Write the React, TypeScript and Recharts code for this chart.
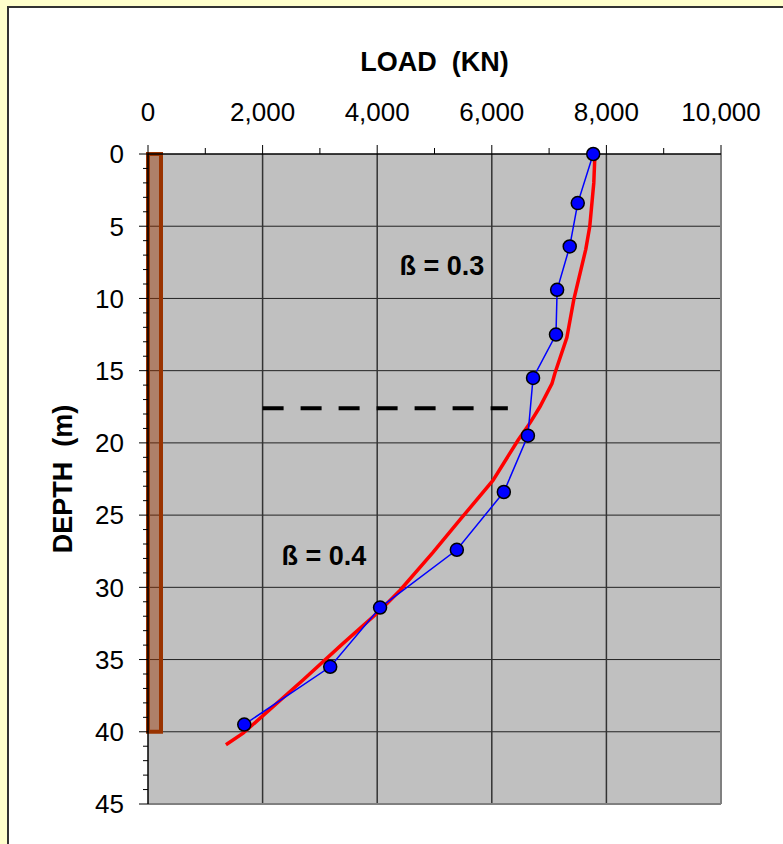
import { ComposedChart, Scatter, XAxis, YAxis, CartesianGrid, ReferenceArea, ReferenceLine, ReferenceDot } from 'recharts';

// load vs depth, measured points (blue)
const measuredLoad = [7770, 7500, 7360, 7140, 7120, 6720, 6630, 6210, 5390, 4050, 3180, 1680];
const measuredDepth = [0, 3.4, 6.4, 9.4, 12.5, 15.5, 19.5, 23.4, 27.4, 31.4, 35.5, 39.5];

// fitted curve (red)
const fitLoad = [7800, 7780, 7710, 7640, 7430, 7310, 7100, 7050, 6840, 6670, 6460, 6020, 5450, 4970, 4400, 4050, 3400, 2710, 1660, 1360];
const fitDepth = [0, 2.0, 5.0, 6.6, 10.1, 12.7, 15.2, 15.9, 17.5, 18.6, 19.8, 22.6, 25.3, 27.6, 30.2, 31.6, 33.9, 36.4, 40.1, 40.9];

const xMajorTicks = [0, 2000, 4000, 6000, 8000, 10000];
const xAllTicks = [0, 1000, 2000, 3000, 4000, 5000, 6000, 7000, 8000, 9000, 10000];
const yMajorTicks = [0, 5, 10, 15, 20, 25, 30, 35, 40, 45];
const yAllTicks = Array.from({ length: 46 }, (_, i) => i);

const pileWidth = 227;
const pileDepth = 40;
const layerDepth = 17.6;
const layerFrom = 2000;
const layerTo = 6280;

const measured = measuredLoad.map((x, i) => ({ x, y: measuredDepth[i] }));
const fitted = fitLoad.map((x, i) => ({ x, y: fitDepth[i] }));

const FONT = 'Liberation Sans, Arial, sans-serif';
const X_MARGIN = 33;
const Y_MARGIN = 24;

const XTick = (props: any) => {
  const { x, y, payload } = props;
  const v = payload.value;
  const major = xMajorTicks.includes(v);
  const axisY = y + X_MARGIN;
  return (
    <g>
      <line x1={x} x2={x} y1={axisY} y2={axisY - (major ? 9 : 6)} stroke="#000" strokeWidth={1} />
      {major && (
        <text x={x} y={y} textAnchor="middle" fontSize={26} fontFamily={FONT} fill="#000">
          {v.toLocaleString('en-US')}
        </text>
      )}
    </g>
  );
};

const YTick = (props: any) => {
  const { x, y, payload } = props;
  const v = payload.value;
  const major = yMajorTicks.includes(v);
  const axisX = x + Y_MARGIN;
  return (
    <g>
      <line x1={axisX} x2={axisX - (major ? 9 : 5)} y1={y} y2={y} stroke="#000" strokeWidth={1} />
      {major && (
        <text x={x} y={y} dy="0.36em" textAnchor="end" fontSize={26} fontFamily={FONT} fill="#000">
          {v}
        </text>
      )}
    </g>
  );
};

const Dot = (props: any) => (
  <circle cx={props.cx} cy={props.cy} r={6.5} fill="#0000FF" stroke="#000" strokeWidth={1.5} />
);

const NoDot = () => <g />;

const labelStyle = { fontSize: 27, fontWeight: 'bold', fontFamily: FONT, fill: '#000', whiteSpace: 'pre' } as any;

export default function App() {
  return (
    <div style={{ position: 'absolute', left: 0, top: 0, width: 783, height: 844, background: '#FFFFCC', overflow: 'hidden' }}>
      <div
        style={{
          position: 'absolute', left: 7, top: 6, width: 820, height: 880,
          background: '#fff', borderLeft: '2px solid #333', borderTop: '2px solid #333',
        }}
      />
      <div style={{ position: 'absolute', left: 0, top: 0 }}>
        <ComposedChart width={783} height={844} margin={{ top: 100, right: 62, bottom: 40, left: 0 }}>
          <CartesianGrid
            fill="#C0C0C0"
            vertical={false}
            horizontalValues={[5, 10, 15, 20, 25, 30, 35, 40]}
            stroke="#222"
            strokeWidth={1}
          />
          <CartesianGrid
            horizontal={false}
            verticalValues={[2000, 4000, 6000, 8000]}
            stroke="#333"
            strokeWidth={1.5}
          />
          <XAxis
            type="number"
            dataKey="x"
            orientation="top"
            domain={[0, 10000]}
            ticks={xAllTicks}
            interval={0}
            height={54}
            tickSize={0}
            tickMargin={X_MARGIN}
            tickLine={false}
            tick={<XTick />}
            axisLine={{ stroke: '#000', strokeWidth: 1.5 }}
            label={{ value: 'LOAD \u00A0(KN)', position: 'top', offset: 29, style: labelStyle }}
          />
          <YAxis
            type="number"
            dataKey="y"
            reversed
            domain={[0, 45]}
            ticks={yAllTicks}
            interval={0}
            width={148}
            tickSize={0}
            tickMargin={Y_MARGIN}
            tickLine={false}
            tick={<YTick />}
            axisLine={{ stroke: '#000', strokeWidth: 1.5 }}
            label={{ value: 'DEPTH \u00A0(m)', angle: -90, position: 'insideLeft', offset: 62, style: { ...labelStyle, textAnchor: 'middle' } }}
          />
          <ReferenceLine x={10000} stroke="#808080" strokeWidth={2} />
          <ReferenceLine y={45} stroke="#808080" strokeWidth={2} />
          <ReferenceArea
            x1={0}
            x2={pileWidth}
            y1={0}
            y2={pileDepth}
            fill="#993300"
            fillOpacity={0.45}
            stroke="#993300"
            strokeWidth={4}
          />
          <ReferenceLine
            segment={[{ x: layerFrom, y: layerDepth }, { x: layerTo, y: layerDepth }]}
            stroke="#000"
            strokeWidth={4}
            strokeDasharray="21 17"
          />
          <ReferenceDot x={5130} y={7.7} r={0} fill="none" stroke="none"
            label={{ value: 'ß = 0.3', position: 'center', style: labelStyle }} />
          <ReferenceDot x={3070} y={27.8} r={0} fill="none" stroke="none"
            label={{ value: 'ß = 0.4', position: 'center', style: labelStyle }} />
          <Scatter
            data={fitted}
            line={{ stroke: '#FF0000', strokeWidth: 3.5 }}
            shape={NoDot}
            isAnimationActive={false}
          />
          <Scatter
            data={measured}
            line={{ stroke: '#0000FF', strokeWidth: 1.5 }}
            shape={Dot}
            isAnimationActive={false}
          />
        </ComposedChart>
      </div>
    </div>
  );
}
